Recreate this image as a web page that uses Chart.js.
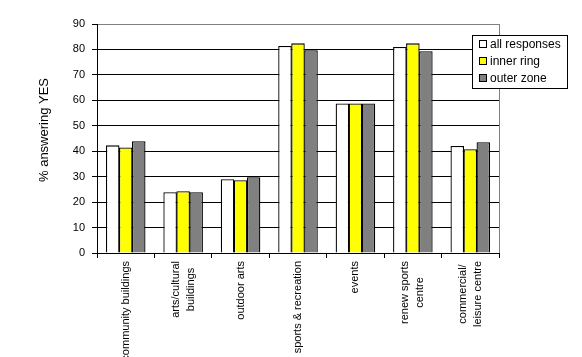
<!DOCTYPE html>
<html>
<head>
<meta charset="utf-8">
<script src="https://cdn.jsdelivr.net/npm/chart.js@4/dist/chart.umd.min.js"></script>
<style>
html,body{margin:0;padding:0;background:#fff;}
#wrap{width:582px;height:357px;position:relative;}
</style>
</head>
<body>
<div id="wrap"><canvas id="c" width="582" height="357"></canvas></div>
<script>
const categories = [
  "community buildings",
  ["arts/cultural", "buildings"],
  "outdoor arts",
  "sports & recreation",
  "events",
  ["renew sports", "centre"],
  ["commercial/", "leisure centre"]
];
const seriesNames = ["all responses", "inner ring", "outer zone"];
const allResponses = [42.3, 23.9, 29.0, 81.4, 58.8, 81.0, 42.1];
const innerRing    = [41.5, 24.3, 28.6, 82.4, 58.8, 82.4, 40.8];
const outerZone    = [43.9, 23.9, 29.8, 79.7, 58.8, 79.3, 43.5];
const yTicks = [0, 10, 20, 30, 40, 50, 60, 70, 80, 90];
const yTitle = "% answering YES";
const colors = ["#ffffff", "#ffff00", "#808080"];

const FONT = "'Liberation Sans', Arial, sans-serif";

const decorPlugin = {
  id: 'decor',
  afterDraw(chart) {
    const ctx = chart.ctx;
    const ca = chart.chartArea;
    ctx.save();
    // right frame border (gray)
    ctx.strokeStyle = '#808080';
    ctx.lineWidth = 1;
    ctx.beginPath();
    ctx.moveTo(Math.round(ca.right) + 0.5, ca.top);
    ctx.lineTo(Math.round(ca.right) + 0.5, ca.bottom);
    ctx.stroke();

    // x category labels (rotated, lines centred)
    const xs = chart.scales.x;
    ctx.fillStyle = '#000';
    ctx.font = "11px " + FONT;
    ctx.textAlign = 'center';
    ctx.textBaseline = 'middle';
    chart.data.labels.forEach((lab, i) => {
      const lines = Array.isArray(lab) ? lab : [lab];
      const w = Math.max(...lines.map(l => ctx.measureText(l).width));
      const cx = xs.getPixelForTick(i);
      const cy = ca.bottom + 8 + w / 2;
      lines.forEach((l, j) => {
        const x = cx + (j - (lines.length - 1) / 2) * 15;
        ctx.save();
        ctx.translate(x, cy);
        ctx.rotate(-Math.PI / 2);
        ctx.fillText(l, 0, 0);
        ctx.restore();
      });
    });

    // y axis title
    ctx.font = "13px " + FONT;
    ctx.save();
    ctx.translate(44.5, 130);
    ctx.rotate(-Math.PI / 2);
    ctx.fillText(yTitle, 0, 0);
    ctx.restore();

    // legend box
    const bx = 472.5, by = 35.5, bw = 95, bh = 53;
    ctx.fillStyle = '#fff';
    ctx.fillRect(bx, by, bw, bh);
    ctx.strokeStyle = '#000';
    ctx.strokeRect(bx, by, bw, bh);
    ctx.font = "12px " + FONT;
    ctx.textBaseline = 'middle';
    ctx.textAlign = 'left';
    chart.data.datasets.forEach((ds, i) => {
      const cy = 44 + i * 17;
      ctx.fillStyle = ds.backgroundColor;
      ctx.fillRect(479.5, cy - 3.5, 7, 7);
      ctx.strokeStyle = '#000';
      ctx.strokeRect(479.5, cy - 3.5, 7, 7);
      ctx.fillStyle = '#000';
      ctx.fillText(ds.label, 490, cy + 0.5);
    });
    ctx.restore();
  }
};

new Chart(document.getElementById('c'), {
  type: 'bar',
  data: {
    labels: categories,
    datasets: [
      { label: seriesNames[0], data: allResponses, backgroundColor: colors[0] },
      { label: seriesNames[1], data: innerRing, backgroundColor: colors[1] },
      { label: seriesNames[2], data: outerZone, backgroundColor: colors[2] }
    ].map(d => Object.assign(d, { borderColor: '#000', borderWidth: 1.3, categoryPercentage: 0.68, barPercentage: 1.04 }))
  },
  options: {
    responsive: false,
    animation: false,
    devicePixelRatio: 1,
    layout: { padding: { left: 36, top: 24, right: 83, bottom: 0 } },
    plugins: { legend: { display: false }, tooltip: { enabled: false } },
    scales: {
      x: {
        grid: { offset: true, drawOnChartArea: false, color: '#000', tickLength: 5, lineWidth: 1 },
        border: { color: '#000', width: 1 },
        ticks: { display: false },
        afterFit(s) { s.height = 104; }
      },
      y: {
        min: 0, max: 90,
        afterBuildTicks(s) { s.ticks = yTicks.map(v => ({ value: v })); },
        grid: {
          color: ctx => (ctx.tick && ctx.tick.value === 90) ? '#808080' : '#000',
          tickColor: '#000',
          tickLength: 5, lineWidth: 1
        },
        border: { color: '#000', width: 1 },
        ticks: { color: '#000', font: { family: FONT, size: 11 }, padding: 7 },
        afterFit(s) { s.width = 61; }
      }
    }
  },
  plugins: [decorPlugin]
});
</script>
</body>
</html>
